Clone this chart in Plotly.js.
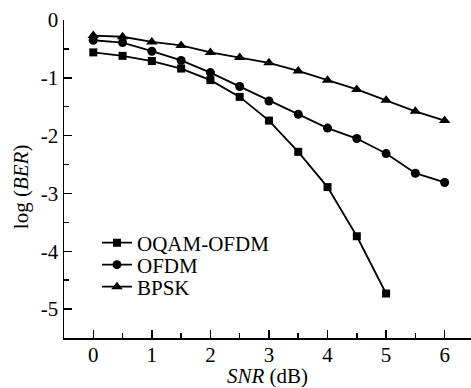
<!DOCTYPE html>
<html>
<head>
<meta charset="utf-8">
<script src="https://cdn.plot.ly/plotly-3.0.1.min.js"></script>
<style>html,body{margin:0;padding:0;background:#fff;}#plot{width:471px;height:388px;}</style>
</head>
<body>
<div id="plot"></div>
<script>
var snrFull = [0, 0.5, 1, 1.5, 2, 2.5, 3, 3.5, 4, 4.5, 5, 5.5, 6];
var snrOqam = [0, 0.5, 1, 1.5, 2, 2.5, 3, 3.5, 4, 4.5, 5];
var oqamOfdm = [-0.56, -0.62, -0.71, -0.84, -1.04, -1.33, -1.74, -2.28, -2.89, -3.74, -4.73];
var ofdm = [-0.35, -0.39, -0.54, -0.70, -0.91, -1.15, -1.40, -1.63, -1.87, -2.05, -2.31, -2.65, -2.81];
var bpsk = [-0.27, -0.29, -0.38, -0.44, -0.56, -0.65, -0.74, -0.88, -1.04, -1.20, -1.39, -1.58, -1.74];
var seriesNames = ['OQAM-OFDM', 'OFDM', 'BPSK'];
var xTickVals = [0, 1, 2, 3, 4, 5, 6];
var xTickText = ['0', '1', '2', '3', '4', '5', '6'];
var yTickVals = [0, -1, -2, -3, -4, -5];
var yTickText = ['0', '-1', '-2', '-3', '-4', '-5'];

var font = 'Liberation Serif';
var lineStyle = {color: '#000', width: 1.8};
var traces = [
  {x: snrOqam, y: oqamOfdm, name: seriesNames[0], mode: 'lines+markers', line: lineStyle, legend: 'legend',
   marker: {symbol: 'square', size: 8, color: '#000'}},
  {x: snrFull, y: ofdm, name: seriesNames[1], mode: 'lines+markers', line: lineStyle, legend: 'legend2',
   marker: {symbol: 'circle', size: 9, color: '#000'}},
  {x: snrFull, y: bpsk, name: seriesNames[2], mode: 'lines+markers', line: lineStyle, legend: 'legend3',
   marker: {symbol: 'triangle-up', size: 10, color: '#000'}}
];
function leg(y) {
  return {x: 0.081, y: y, xanchor: 'left', yanchor: 'middle', bgcolor: 'rgba(0,0,0,0)',
    font: {family: font, size: 21, color: '#000'}, itemwidth: 30};
}
var layout = {
  width: 471, height: 388,
  margin: {l: 64, r: 0, t: 20, b: 50},
  paper_bgcolor: '#fff', plot_bgcolor: '#fff',
  font: {family: font, size: 20, color: '#000'},
  showlegend: true,
  legend: leg(0.2987), legend2: leg(0.2296), legend3: leg(0.1604),
  xaxis: {
    range: [-0.5, 6.45], showgrid: false, zeroline: false,
    showline: true, linecolor: '#000', linewidth: 1.5,
    ticks: 'inside', ticklen: 8, tickwidth: 1.5, tickcolor: '#000',
    tickvals: xTickVals, ticktext: xTickText, ticklabelstandoff: -3,
    tickfont: {family: font, size: 21, color: '#000'},
    minor: {tickvals: [-0.5,0.5,1.5,2.5,3.5,4.5,5.5], ticks: 'inside', ticklen: 5, tickwidth: 1.5, tickcolor: '#000', showgrid: false},
    title: {text: '<i>SNR</i> (dB)', font: {family: font, size: 21, color: '#000'}, standoff: 4}
  },
  yaxis: {
    range: [-5.5, 0], showgrid: false, zeroline: false,
    showline: true, linecolor: '#000', linewidth: 1.5,
    ticks: 'inside', ticklen: 8, tickwidth: 1.5, tickcolor: '#000',
    tickvals: yTickVals, ticktext: yTickText,
    tickfont: {family: font, size: 21, color: '#000'},
    minor: {tickvals: [-0.5,-1.5,-2.5,-3.5,-4.5], ticks: 'inside', ticklen: 5, tickwidth: 1.5, tickcolor: '#000', showgrid: false},
    title: {text: 'log (<i>BER</i>)&nbsp;&nbsp;&nbsp;', font: {family: font, size: 21, color: '#000'}, standoff: 6}
  }
};
Plotly.newPlot('plot', traces, layout, {staticPlot: true, displayModeBar: false});
</script>
</body>
</html>
